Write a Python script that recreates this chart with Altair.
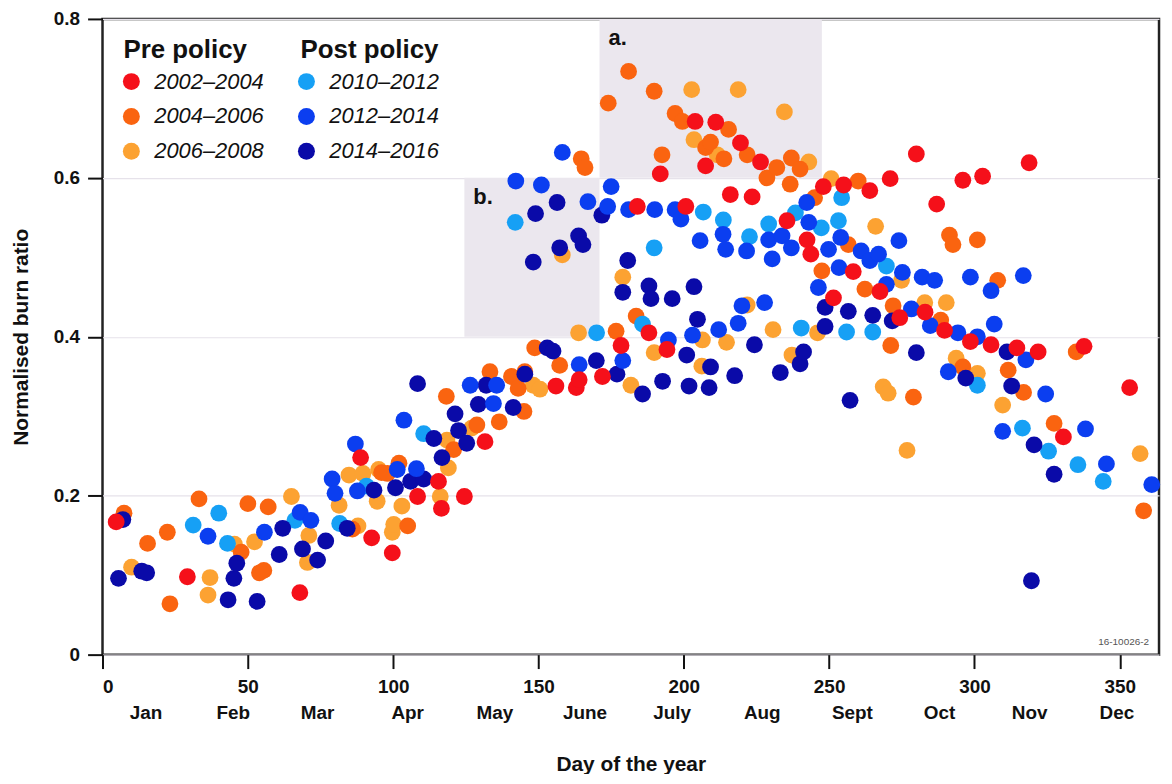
import altair as alt
import pandas as pd

# ---------------- data ----------------
series_names = ["2002–2004", "2004–2006", "2006–2008", "2010–2012", "2012–2014", "2014–2016"]
series_colors = ["#f5101a", "#fa6410", "#fca232", "#16a0f5", "#0b3ef0", "#0a0aa8"]

r_day = [4.7, 29.2, 67.9, 88.8, 92.6, 99.7, 108.4, 115.6, 116.6, 124.5, 131.6, 156, 163, 164, 172,
         178.4, 184, 188, 191.9, 194.2, 200.7, 203.9, 207.5, 211, 216, 219.5, 223.5, 226.4, 235.5,
         242.4, 243.7, 248, 251.5, 255, 258.3, 264, 267.5, 271, 274.3, 280, 283, 287, 289.7, 296,
         298.6, 302.8, 305.7, 314.6, 318.8, 321.9, 330.6, 337.7, 353.4]
r_val = [0.167, 0.098, 0.078, 0.248, 0.147, 0.128, 0.199, 0.218, 0.184, 0.199, 0.268, 0.338, 0.336,
         0.346, 0.350, 0.389, 0.564, 0.405, 0.605, 0.384, 0.564, 0.671, 0.615, 0.670, 0.579, 0.644,
         0.576, 0.620, 0.546, 0.522, 0.504, 0.589, 0.449, 0.591, 0.482, 0.584, 0.457, 0.599, 0.424,
         0.630, 0.431, 0.567, 0.408, 0.597, 0.394, 0.602, 0.390, 0.386, 0.619, 0.381, 0.274, 0.388,
         0.336]

o_day = [7.4, 15.5, 22.3, 23.2, 33.2, 47.7, 50, 54, 55.5, 57, 86, 96, 98, 102, 105, 118.3, 120.8,
         128.8, 133.3, 136.5, 140.7, 143, 145, 145.3, 148.7, 157.3, 164.7, 166, 174, 176.7, 181,
         183.6, 189.8, 192.5, 197, 199.5, 207.5, 209.2, 213.8, 215.4, 221.8, 228.6, 232, 236.6, 237,
         240, 245, 247.5, 256.6, 260, 262.3, 271.2, 272, 279, 288.4, 291.4, 292.6, 296, 301, 308,
         311.6, 316.9, 327.4, 335, 358.2]
o_val = [0.178, 0.140, 0.154, 0.064, 0.196, 0.129, 0.190, 0.103, 0.106, 0.186, 0.158, 0.229, 0.228,
         0.241, 0.162, 0.325, 0.258, 0.289, 0.356, 0.293, 0.350, 0.335, 0.306, 0.356, 0.386, 0.364,
         0.624, 0.613, 0.694, 0.407, 0.734, 0.426, 0.709, 0.629, 0.681, 0.671, 0.638, 0.645, 0.624,
         0.661, 0.629, 0.600, 0.613, 0.592, 0.625, 0.611, 0.575, 0.483, 0.516, 0.596, 0.460, 0.389,
         0.439, 0.324, 0.421, 0.528, 0.516, 0.362, 0.522, 0.471, 0.358, 0.330, 0.291, 0.381, 0.181]

l_day = [10, 36.3, 37, 45.4, 52.3, 65, 70.5, 71, 81.4, 84.8, 87.9, 89.6, 94.5, 95, 99.7, 100.2, 103,
         116.2, 118.5, 119, 127, 148.2, 150.5, 158.2, 163.8, 179, 181.8, 189.8, 202.7, 203.5, 206.2,
         206.4, 211.5, 214.7, 218.7, 221.8, 230.7, 234.6, 237.2, 243, 246, 250.7, 266, 268.6, 270.3,
         274.9, 276.8, 282.9, 290.3, 293.7, 301, 309.7, 357]
l_val = [0.110, 0.075, 0.097, 0.139, 0.142, 0.199, 0.116, 0.150, 0.188, 0.226, 0.162, 0.228, 0.193,
         0.233, 0.154, 0.164, 0.187, 0.199, 0.270, 0.235, 0.285, 0.339, 0.334, 0.503, 0.405, 0.475,
         0.339, 0.380, 0.711, 0.648, 0.363, 0.396, 0.629, 0.393, 0.711, 0.440, 0.409, 0.683, 0.377,
         0.620, 0.405, 0.599, 0.539, 0.337, 0.329, 0.471, 0.257, 0.443, 0.443, 0.373, 0.354, 0.314,
         0.253]

c_day = [31.2, 40, 43, 66.2, 81.6, 90.8, 110.5, 142, 170, 185.8, 189.8, 206.7, 213.6, 222.6, 229.2,
         238.4, 240.4, 247.3, 253.2, 254.3, 256, 265, 269.7, 301, 316.5, 325.5, 335.6, 344.3]
c_val = [0.163, 0.178, 0.140, 0.169, 0.165, 0.212, 0.278, 0.544, 0.405, 0.416, 0.512, 0.557, 0.547,
         0.526, 0.542, 0.556, 0.411, 0.537, 0.546, 0.575, 0.406, 0.406, 0.489, 0.339, 0.285, 0.256,
         0.239, 0.218]

b_day = [36.3, 55.7, 68, 71.7, 79, 80, 87, 87.7, 101.4, 103.7, 108, 126.5, 134.5, 135.6, 142.2, 151,
         158.2, 164, 167, 173.8, 175, 179, 181, 190, 194.7, 197, 199, 203, 205.6, 212, 213.5, 214.4,
         218.7, 220, 221.6, 227.8, 229.2, 230.4, 233.8, 237, 242.3, 243, 246.3, 249.8, 253.4, 254,
         261, 264, 267, 269.7, 274, 275.2, 278.3, 282, 284.8, 286.3, 291, 294.3, 298.6, 301, 305.7,
         306.8, 309.7, 316.8, 317.7, 324.5, 338.2, 345.4, 361]
b_val = [0.149, 0.154, 0.179, 0.169, 0.221, 0.203, 0.265, 0.206, 0.233, 0.295, 0.234, 0.339, 0.316,
         0.339, 0.596, 0.591, 0.632, 0.365, 0.570, 0.564, 0.589, 0.370, 0.560, 0.560, 0.396, 0.560,
         0.548, 0.402, 0.521, 0.409, 0.529, 0.510, 0.417, 0.439, 0.508, 0.443, 0.522, 0.498, 0.527,
         0.512, 0.569, 0.544, 0.462, 0.510, 0.487, 0.525, 0.508, 0.496, 0.504, 0.466, 0.521, 0.481,
         0.435, 0.475, 0.414, 0.471, 0.356, 0.405, 0.475, 0.400, 0.458, 0.416, 0.281, 0.477, 0.371,
         0.328, 0.284, 0.240, 0.214]

n_day = [5.5, 7, 13.5, 15.2, 43.2, 45.2, 46.2, 53.2, 60.8, 62, 68.8, 74, 76.8, 84.2, 93.4, 100.8,
         106, 108.4, 110.5, 114, 116.8, 121.3, 122.5, 125.3, 129.3, 132, 141.3, 145.3, 148.2, 149,
         153, 155, 156.4, 157.3, 163.8, 165.3, 169.9, 171.8, 177, 179, 180.7, 185.8, 188, 188.7,
         192.7, 196, 201, 201.8, 203.5, 204.7, 208.7, 209.2, 217.5, 224.3, 233.2, 240, 241.2, 248.6,
         248.6, 256.6, 257.2, 265, 271.7, 280, 297, 311.2, 312.8, 319.6, 320.5, 327.4]
n_val = [0.096, 0.170, 0.105, 0.103, 0.069, 0.096, 0.115, 0.067, 0.126, 0.159, 0.133, 0.119, 0.143,
         0.159, 0.207, 0.210, 0.218, 0.341, 0.221, 0.272, 0.248, 0.303, 0.282, 0.266, 0.315, 0.339,
         0.311, 0.353, 0.494, 0.555, 0.386, 0.382, 0.569, 0.512, 0.527, 0.516, 0.370, 0.553, 0.353,
         0.456, 0.496, 0.328, 0.464, 0.448, 0.344, 0.448, 0.377, 0.338, 0.463, 0.422, 0.336, 0.362,
         0.351, 0.390, 0.355, 0.366, 0.381, 0.437, 0.413, 0.432, 0.320, 0.427, 0.420, 0.380, 0.348,
         0.381, 0.338, 0.093, 0.264, 0.227]

# shaded regions a. and b.
region_labels = ["b.", "a."]
region_start = [124.5, 171]
region_end = [171, 247.5]
region_low = [0.4, 0.6]
region_high = [0.6, 0.8]

month_names = ["Jan", "Feb", "Mar", "Apr", "May", "June", "July", "Aug", "Sept", "Oct", "Nov", "Dec"]
month_mid_day = [15, 45, 74, 105, 135, 166, 196, 227, 258, 288, 319, 349]

x_ticks = [0, 50, 100, 150, 200, 250, 300, 350]
y_ticks = [0, 0.2, 0.4, 0.6, 0.8]

# ---------------- build tables ----------------
draw_order = [
    ("2006–2008", l_day, l_val),
    ("2004–2006", o_day, o_val),
    ("2010–2012", c_day, c_val),
    ("2014–2016", n_day, n_val),
    ("2012–2014", b_day, b_val),
    ("2002–2004", r_day, r_val),
]
rows = []
for name, days, vals in draw_order:
    for d, v in zip(days, vals):
        rows.append({"day": d, "ratio": v, "period": name})
points_df = pd.DataFrame(rows)

regions_df = pd.DataFrame({"x1": region_start, "x2": region_end, "y1": region_low,
                           "y2": region_high, "label": region_labels})
months_df = pd.DataFrame({"month": month_names, "day": month_mid_day})

FONT = "Liberation Sans, Arial, Helvetica, sans-serif"
INK = "#111111"

x_scale = alt.Scale(domain=[0, 363.5], nice=False, zero=False)
y_scale = alt.Scale(domain=[0, 0.8], nice=False)

x_axis = alt.Axis(values=x_ticks, title="Day of the year", grid=False, domain=False,
                  tickSize=14, tickWidth=2, tickColor=INK, labelFont=FONT, labelFontSize=19,
                  labelFontWeight="bold", labelColor=INK, labelPadding=9,
                  titleFont=FONT, titleFontSize=21, titleFontWeight="bold", titleColor=INK,
                  titlePadding=57)
y_axis = alt.Axis(values=y_ticks, title="Normalised burn ratio", grid=True, gridColor="#e6e2ea",
                  gridWidth=1.2, domain=False, tickSize=15, tickWidth=2, tickColor=INK,
                  labelFont=FONT, labelFontSize=19, labelFontWeight="bold", labelColor=INK,
                  labelPadding=8,
                  labelExpr="datum.value == 0 ? '0' : format(datum.value, '.1f')",
                  titleFont=FONT, titleFontSize=21, titleFontWeight="bold", titleColor=INK,
                  titlePadding=22)

rects = alt.Chart(regions_df).mark_rect(color="#ebe7ee").encode(
    x=alt.X("x1:Q", scale=x_scale, axis=x_axis),
    x2="x2:Q",
    y=alt.Y("y1:Q", scale=y_scale, axis=y_axis),
    y2="y2:Q",
)

region_text = alt.Chart(regions_df).mark_text(
    align="left", baseline="top", dx=9, dy=9, font=FONT, fontSize=22, fontWeight="bold", color=INK
).encode(
    x=alt.X("x1:Q", scale=x_scale, axis=x_axis),
    y=alt.Y("y2:Q", scale=y_scale, axis=y_axis),
    text="label:N",
)

points = alt.Chart(points_df).mark_circle(size=285, opacity=1).encode(
    x=alt.X("day:Q", scale=x_scale, axis=x_axis),
    y=alt.Y("ratio:Q", scale=y_scale, axis=y_axis),
    color=alt.Color(
        "period:N",
        scale=alt.Scale(domain=series_names, range=series_colors),
        legend=alt.Legend(
            orient="none", legendX=18, legendY=52, columns=2, title=None,
            symbolType="circle", symbolSize=290, symbolStrokeWidth=0, symbolOpacity=1,
            labelFont=FONT, labelFontSize=22, labelFontStyle="italic", labelColor=INK,
            labelOffset=12, columnPadding=31, rowPadding=13,
        ),
    ),
)

months = alt.Chart(months_df).mark_text(
    align="center", baseline="middle", font=FONT, fontSize=19, fontWeight="bold", color=INK
).encode(
    x=alt.X("day:Q", scale=x_scale, axis=x_axis),
    y=alt.value(698),
    text="month:N",
)

pre_head = alt.Chart(pd.DataFrame({"t": ["Pre policy"]})).mark_text(
    align="left", baseline="middle", font=FONT, fontSize=26, fontWeight="bold", color=INK
).encode(x=alt.value(21), y=alt.value(31), text="t:N")

post_head = alt.Chart(pd.DataFrame({"t": ["Post policy"]})).mark_text(
    align="left", baseline="middle", font=FONT, fontSize=26, fontWeight="bold", color=INK
).encode(x=alt.value(199), y=alt.value(31), text="t:N")

code_note = alt.Chart(pd.DataFrame({"t": ["16-10026-2"]})).mark_text(
    align="right", baseline="middle", font=FONT, fontSize=10, color="#555555"
).encode(x=alt.value(1052), y=alt.value(626), text="t:N")

chart = alt.layer(rects, region_text, points, months, pre_head, post_head, code_note).properties(
    width=1062,
    height=639,
    background="white",
    autosize=alt.AutoSizeParams(type="none"),
    padding={"left": 95, "top": 9, "right": 5, "bottom": 118},
).configure_view(
    stroke="#222222", strokeWidth=2.5
)

chart.save("out.html", embed_options={"renderer": "svg", "actions": False})
